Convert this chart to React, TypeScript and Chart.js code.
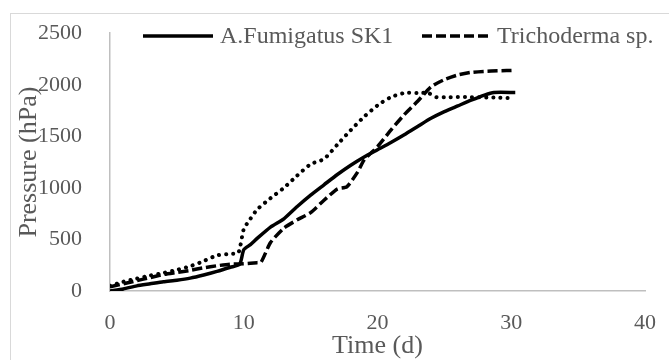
import React, { useEffect, useRef } from "react";
import { Chart, registerables } from "chart.js";

Chart.register(...registerables);

// ---- Data ----
const fumigatusDays = [0, 1, 2, 3, 4, 5, 6, 7, 8, 9, 9.7, 10, 10.5, 11, 12, 13, 14, 15, 16, 17, 18, 19, 20, 21, 22, 23, 24, 25, 26, 27, 28, 28.7, 30.3];
const fumigatusPressure = [0, 20, 50, 70, 90, 105, 125, 155, 190, 230, 260, 400, 450, 510, 620, 700, 820, 930, 1030, 1130, 1220, 1300, 1370, 1440, 1515, 1595, 1675, 1740, 1795, 1850, 1900, 1925, 1925];

const trichodermaDays = [0, 1, 2, 3, 4, 5, 6, 7, 8, 9, 10, 11, 11.3, 12, 13, 14, 15, 16, 17, 17.7, 18.5, 19, 20, 21, 22, 23, 24, 25, 26, 27, 28, 29, 30.3];
const trichodermaPressure = [40, 70, 100, 130, 160, 180, 200, 225, 245, 260, 265, 275, 280, 470, 610, 690, 760, 880, 990, 1010, 1150, 1270, 1400, 1560, 1710, 1840, 1980, 2050, 2095, 2120, 2130, 2135, 2140];

const thirdDays = [0, 1, 2, 3, 4, 5, 6, 7, 8, 9, 9.6, 10, 10.5, 11, 12, 13, 14, 15, 16, 17, 18, 19, 20, 21, 22, 23, 23.8, 24.4, 25, 27, 29, 30];
const thirdPressure = [50, 90, 120, 150, 175, 205, 240, 290, 345, 360, 370, 600, 700, 790, 900, 1000, 1120, 1230, 1280, 1420, 1560, 1690, 1800, 1880, 1920, 1920, 1920, 1880, 1880, 1880, 1875, 1870];

const xTicks = [0, 10, 20, 30, 40];
const yTicks = [0, 500, 1000, 1500, 2000, 2500];

const seriesNames = ["A.Fumigatus SK1", "Trichoderma sp.", "Series 3"];

const toPoints = (xs: number[], ys: number[]) => xs.map((x, i) => ({ x, y: ys[i] }));

const TEXT = "#595959";
const AXIS = "#bfbfbf";
const FONT = "'Liberation Serif', 'Times New Roman', serif";

const legendPlugin = {
  id: "customLegend",
  afterDraw(chart: any) {
    const ctx = chart.ctx;
    ctx.save();
    const y = 36;
    const items = [
      { x0: 143, x1: 213, tx: 220, dash: [] as number[], label: seriesNames[0] },
      { x0: 422, x1: 492, tx: 497, dash: [10, 4], label: seriesNames[1] },
    ];
    for (const it of items) {
      ctx.beginPath();
      ctx.setLineDash(it.dash);
      ctx.lineWidth = 3.5;
      ctx.strokeStyle = "#000";
      ctx.lineCap = "butt";
      ctx.moveTo(it.x0, y);
      ctx.lineTo(it.x1, y);
      ctx.stroke();
      ctx.setLineDash([]);
      ctx.fillStyle = TEXT;
      ctx.font = `24px ${FONT}`;
      ctx.textBaseline = "middle";
      ctx.textAlign = "left";
      ctx.fillText(it.label, it.tx, y + 1);
    }
    ctx.restore();
  },
};

export default function App() {
  const ref = useRef<HTMLCanvasElement | null>(null);

  useEffect(() => {
    if (!ref.current) return;
    const chart = new Chart(ref.current, {
      type: "line",
      data: {
        datasets: [
          {
            label: seriesNames[0],
            data: toPoints(fumigatusDays, fumigatusPressure),
            borderColor: "#000",
            borderWidth: 3.5,
            pointRadius: 0,
            tension: 0.2,
            fill: false,
          },
          {
            label: seriesNames[1],
            data: toPoints(trichodermaDays, trichodermaPressure),
            borderColor: "#000",
            borderWidth: 3.5,
            borderDash: [10, 4],
            pointRadius: 0,
            tension: 0.2,
            fill: false,
          },
          {
            label: seriesNames[2],
            data: toPoints(thirdDays, thirdPressure),
            borderColor: "#000",
            borderWidth: 4,
            borderDash: [0.1, 7],
            borderCapStyle: "round",
            pointRadius: 0,
            tension: 0.2,
            fill: false,
          },
        ],
      },
      options: {
        animation: false,
        responsive: false,
        maintainAspectRatio: false,
        layout: { padding: { left: 0, right: 24, top: 30, bottom: 0 } },
        plugins: {
          legend: { display: false },
          tooltip: { enabled: false },
        },
        scales: {
          x: {
            type: "linear",
            min: 0,
            max: 40,
            afterBuildTicks: (s: any) => {
              s.ticks = xTicks.map((v) => ({ value: v }));
            },
            afterFit: (s: any) => {
              s.height = 69;
            },
            grid: { display: false },
            border: { display: true, color: AXIS, width: 1.5 },
            ticks: {
              color: TEXT,
              font: { family: FONT, size: 22 },
              padding: 11,
              maxRotation: 0,
              callback: (v: any) => String(v),
            },
            title: {
              display: true,
              text: "Time (d)",
              color: TEXT,
              font: { family: FONT, size: 26, lineHeight: 1.1 },
              padding: { top: 0, bottom: 0 },
            },
          },
          y: {
            type: "linear",
            min: 0,
            max: 2500,
            afterBuildTicks: (s: any) => {
              s.ticks = yTicks.map((v) => ({ value: v }));
            },
            afterFit: (s: any) => {
              s.width = 110;
            },
            grid: { display: false },
            border: { display: true, color: AXIS, width: 1.5 },
            ticks: {
              color: TEXT,
              font: { family: FONT, size: 22 },
              padding: 20,
              callback: (v: any) => String(v),
            },
            title: {
              display: true,
              text: "Pressure (hPa)",
              color: TEXT,
              font: { family: FONT, size: 26 },
              padding: { top: 14, bottom: 0 },
            },
          },
        },
      },
      plugins: [legendPlugin],
    } as any);
    return () => chart.destroy();
  }, []);

  return (
    <div
      style={{
        position: "fixed",
        left: 0,
        top: 0,
        width: 669,
        height: 360,
        overflow: "hidden",
        background: "#fff",
      }}
    >
      <div
        style={{
          position: "absolute",
          left: 10,
          top: 13,
          width: 720,
          height: 420,
          border: "1px solid #d9d9d9",
        }}
      />
      <canvas
        ref={ref}
        width={669}
        height={360}
        style={{ position: "absolute", left: 0, top: 0, width: 669, height: 360 }}
      />
    </div>
  );
}
